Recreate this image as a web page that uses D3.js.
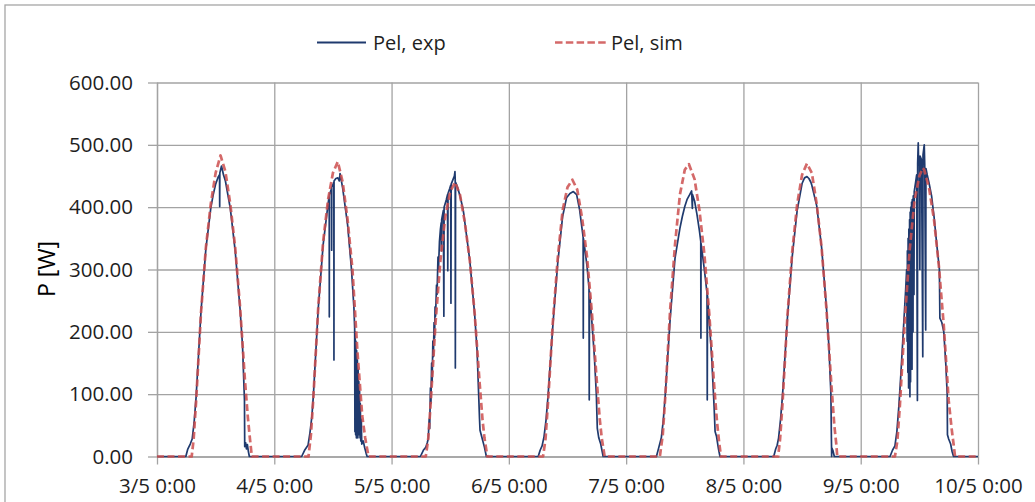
<!DOCTYPE html>
<html>
<head>
<meta charset="utf-8">
<script src="https://cdn.jsdelivr.net/npm/d3@7"></script>
<style>
  html, body { margin: 0; padding: 0; background: #fff; }
  svg { display: block; font-family: "Open Sans", sans-serif; }
</style>
</head>
<body>
<div id="chart"></div>
<script>
// Day labels on the time axis (one per midnight)
const tickLabels = ["3/5 0:00", "4/5 0:00", "5/5 0:00", "6/5 0:00", "7/5 0:00", "8/5 0:00", "9/5 0:00", "10/5 0:00"];
const yTicks = [0, 100, 200, 300, 400, 500, 600];
const seriesNames = ["Pel, exp", "Pel, sim"];

// Simulated electrical power, [hour of day, W]
const sim0305 = [[7.1,0],[7.5,28],[8,88],[9,230],[10,335],[11,405],[12,455],[13,483],[14,457],[15,405],[16,335],[17,240],[18,122],[18.6,62],[19,30],[19.4,0]];
const sim0405 = [[7.0,0],[7.5,35],[8,95],[9,240],[10,345],[11,412],[12,455],[13,473],[14,440],[15,380],[16,300],[17,170],[18,65],[18.6,30],[19,12],[19.3,0]];
const sim0505 = [[7.0,0],[7.5,28],[8,85],[9,215],[10,315],[11,385],[12,425],[13,440],[14,420],[15,375],[16,315],[17,230],[18,120],[18.6,60],[19,30],[19.6,0]];
const sim0605 = [[7.0,0],[7.5,28],[8,85],[9,215],[10,318],[11,395],[12,432],[13,444],[14,428],[15,382],[16,320],[17,230],[18,120],[18.6,60],[19,30],[19.6,0]];
const sim0705 = [[6.9,0],[7.5,35],[8,95],[9,235],[10,340],[11,420],[12,460],[12.85,469],[14,445],[15,395],[16,325],[17,230],[18,115],[18.6,55],[19,25],[19.4,0]];
const sim0805 = [[7.1,0],[7.5,28],[8,85],[9,225],[10,330],[11,405],[12,452],[13,470],[14,455],[15,405],[16,335],[17,235],[18,115],[18.6,50],[19,20],[19.2,0]];
const sim0905 = [[7.0,0],[7.5,25],[8,80],[9,215],[10,330],[11,410],[12,450],[12.7,463],[13,460],[14,430],[15,380],[16,305],[17,210],[18,90],[18.6,45],[19,20],[19.3,0]];

// Measured electrical power, [hour of day, W]
const exp0305 = [[5.9,0],[6.3,12],[6.8,20],[7.2,28],[7.6,55],[8,95],[9,232],[10,333],[11,398],[11.5,420],[12,437],[12.5,448],[12.8,452],[12.83,401],[12.86,455],[13.2,466],[13.6,452],[14,442],[15,398],[16,330],[17,236],[17.5,178],[17.9,90],[17.95,16],[18.15,22],[18.3,12],[18.5,19],[18.7,8],[18.9,0]];
const exp0405 = [[5.6,0],[6.2,10],[6.9,18],[7.3,38],[7.7,65],[8,98],[9,238],[10,340],[11,405],[11.24,418],[11.26,224],[11.28,420],[11.72,430],[11.74,331],[11.76,432],[12.19,440],[12.21,155],[12.23,442],[12.6,446],[13.0,447],[13.3,442],[13.45,454],[13.6,448],[14,430],[15,372],[15.8,300],[16.3,238],[16.45,205],[16.5,40],[16.55,200],[16.65,35],[16.7,185],[16.8,30],[16.85,170],[16.95,45],[17.0,155],[17.1,30],[17.15,140],[17.25,40],[17.3,120],[17.4,35],[17.45,105],[17.55,30],[17.6,85],[17.7,25],[17.8,60],[17.9,20],[18.2,25],[18.5,14],[18.8,5],[19.0,0]];
const exp0505 = [[5.9,0],[6.5,10],[7.0,15],[7.3,22],[7.5,28],[7.7,60],[7.8,45],[7.95,110],[8.05,85],[8.2,150],[8.3,120],[8.45,185],[8.55,160],[8.7,215],[8.8,190],[8.9,240],[9.0,225],[9.2,275],[9.3,260],[9.5,320],[9.6,300],[9.8,345],[10.0,365],[10.15,375],[10.2,330],[10.25,380],[10.6,395],[10.7,225],[10.75,400],[11.2,412],[11.45,420],[11.5,298],[11.55,422],[11.9,430],[12.1,435],[12.15,246],[12.2,437],[12.6,445],[12.85,450],[12.97,457],[13.02,445],[13.05,142],[13.1,440],[13.5,432],[14,418],[14.6,398],[14.8,388],[15,375],[16,315],[17,228],[17.5,170],[18.0,60],[18.1,42],[18.5,30],[19.0,15],[19.4,0]];
const exp0605 = [[6.0,0],[6.4,10],[6.8,17],[7.2,32],[7.6,58],[8,95],[9,210],[10,310],[11,385],[11.8,415],[12.5,422],[13.2,425],[13.87,420],[14.5,395],[14.9,370],[15.2,352],[15.23,190],[15.26,350],[15.6,330],[16,305],[16.4,270],[16.45,91],[16.5,265],[17,215],[17.5,160],[17.9,100],[18.1,45],[18.4,30],[18.8,20],[19.1,8],[19.3,0]];
const exp0705 = [[6.2,0],[6.7,15],[7.2,30],[7.6,58],[8,98],[9,220],[10,318],[11,366],[11.5,385],[12,401],[12.5,413],[13,420],[13.4,426],[13.55,398],[13.6,420],[14,410],[14.5,388],[15,362],[15.27,345],[15.3,190],[15.33,342],[16,300],[16.55,262],[16.6,91],[16.65,258],[17,218],[17.5,160],[18,80],[18.2,40],[18.5,32],[18.9,12],[19.2,0]];
const exp0805 = [[6.2,0],[6.6,12],[6.9,18],[7.2,30],[7.6,60],[8,98],[9,222],[10,322],[11,395],[12,438],[12.5,447],[13,449],[13.4,446],[13.8,440],[14,435],[15,402],[16,335],[17,238],[17.5,175],[17.9,100],[18.0,30],[18.03,15],[18.05,0],[18.08,14],[18.3,10],[18.6,0]];
const exp0905 = [[6.0,0],[6.5,10],[7.0,17],[7.4,40],[7.8,80],[8.2,130],[8.6,185],[9.0,240],[9.2,268],[9.4,300],[9.5,185],[9.55,330],[9.65,135],[9.7,350],[9.8,110],[9.85,365],[9.95,150],[10.0,380],[10.07,96],[10.12,392],[10.2,120],[10.25,400],[10.35,175],[10.4,408],[10.5,140],[10.55,412],[10.7,200],[10.75,418],[10.9,260],[10.95,425],[11.2,438],[11.45,452],[11.6,90],[11.65,470],[11.77,503],[11.85,468],[12.0,478],[12.1,300],[12.15,482],[12.45,476],[12.7,160],[12.75,484],[13.0,500],[13.1,468],[13.3,203],[13.35,462],[13.6,452],[14,438],[14.5,418],[15,385],[15.5,345],[16.1,300],[16.2,222],[16.6,215],[17,200],[17.4,150],[17.7,100],[17.75,35],[18.0,28],[18.4,20],[18.7,8],[19.0,0]];

const simDays = [sim0305, sim0405, sim0505, sim0605, sim0705, sim0805, sim0905];
const expDays = [exp0305, exp0405, exp0505, exp0605, exp0705, exp0805, exp0905];

// Join the daily readings into one continuous series on an hour axis
function joinDays(days) {
  const pts = [[0, 0]];
  days.forEach((day, i) => day.forEach(([h, v]) => pts.push([i * 24 + h, v])));
  pts.push([days.length * 24, 0]);
  return pts;
}
const simSeries = joinDays(simDays);
const expSeries = joinDays(expDays);

const width = 1035, height = 502;
const plot = { left: 157, right: 978, top: 82.5, bottom: 456.5 };

const x = d3.scaleLinear().domain([0, 24 * (tickLabels.length - 1)]).range([plot.left, plot.right]);
const y = d3.scaleLinear().domain([0, 600]).range([plot.bottom, plot.top]);
const dayHours = tickLabels.map((_, i) => i * 24);

const svg = d3.select("#chart").append("svg")
  .attr("width", width).attr("height", height);

const gridColor = "#a3a3a3";
const textColor = "#1e1e1e";

// Outer chart frame
svg.append("rect")
  .attr("x", 5).attr("y", 5).attr("width", 1200).attr("height", 700)
  .attr("fill", "#fff").attr("stroke", "#a6a6a6").attr("stroke-width", 1.3);

// Horizontal gridlines
svg.append("g")
  .attr("transform", `translate(${plot.left},0)`)
  .call(d3.axisLeft(y).tickValues(yTicks).tickSize(-(plot.right - plot.left)).tickFormat(""))
  .call(g => g.select(".domain").remove())
  .call(g => g.selectAll("line").attr("stroke", gridColor).attr("stroke-width", 1.3));

// Vertical gridlines
svg.append("g")
  .attr("transform", `translate(0,${plot.bottom})`)
  .call(d3.axisBottom(x).tickValues(dayHours).tickSize(-(plot.bottom - plot.top)).tickFormat(""))
  .call(g => g.select(".domain").remove())
  .call(g => g.selectAll("line").attr("stroke", gridColor).attr("stroke-width", 1.3));

// Y axis
svg.append("g")
  .attr("transform", `translate(${plot.left},0)`)
  .call(d3.axisLeft(y).tickValues(yTicks).tickSize(9).tickSizeOuter(0).tickPadding(15).tickFormat(d3.format(".2f")))
  .call(g => g.select(".domain").attr("stroke", gridColor).attr("stroke-width", 1.3))
  .call(g => g.selectAll("line").attr("stroke", gridColor).attr("stroke-width", 1.3))
  .call(g => g.selectAll("text").attr("fill", textColor).style("font-size", "20.5px").style("font-family", "'Open Sans', sans-serif"));

// X axis
svg.append("g")
  .attr("transform", `translate(0,${plot.bottom})`)
  .call(d3.axisBottom(x).tickValues(dayHours).tickSize(8).tickSizeOuter(0).tickPadding(14).tickFormat((d, i) => tickLabels[i]))
  .call(g => g.select(".domain").attr("stroke", gridColor).attr("stroke-width", 1.3))
  .call(g => g.selectAll("line").attr("stroke", gridColor).attr("stroke-width", 1.3))
  .call(g => g.selectAll("text").attr("fill", textColor).style("font-size", "20.5px").style("font-family", "'Open Sans', sans-serif"));

// Y axis title
svg.append("text")
  .attr("transform", "translate(55,269) rotate(-90)")
  .attr("text-anchor", "middle")
  .attr("fill", "#000")
  .style("font-size", "23px")
  .text("P [W]");

const line = d3.line().x(d => x(d[0])).y(d => y(d[1]));

const expColor = "#1f3a6e";
const simColor = "#cc4f4f";

svg.append("path")
  .datum(expSeries)
  .attr("d", line)
  .attr("fill", "none")
  .attr("stroke", expColor)
  .attr("stroke-width", 1.7)
  .attr("stroke-linejoin", "round");

svg.append("path")
  .datum(simSeries)
  .attr("d", line)
  .attr("fill", "none")
  .attr("stroke", simColor)
  .attr("stroke-opacity", 0.85)
  .attr("stroke-width", 2.7)
  .attr("stroke-linejoin", "round")
  .attr("stroke-dasharray", "7,3.5");

// Legend
const legend = svg.append("g").style("font-size", "20px").attr("fill", textColor);
legend.append("line").attr("x1", 317).attr("x2", 366).attr("y1", 42.5).attr("y2", 42.5)
  .attr("stroke", expColor).attr("stroke-width", 1.8);
legend.append("text").attr("x", 373).attr("y", 49.5).text(seriesNames[0]);
legend.append("line").attr("x1", 555).attr("x2", 609).attr("y1", 42.5).attr("y2", 42.5)
  .attr("stroke", simColor).attr("stroke-opacity", 0.85).attr("stroke-width", 2.7).attr("stroke-dasharray", "7.5,3.3");
legend.append("text").attr("x", 611).attr("y", 49.5).text(seriesNames[1]);
</script>
</body>
</html>
